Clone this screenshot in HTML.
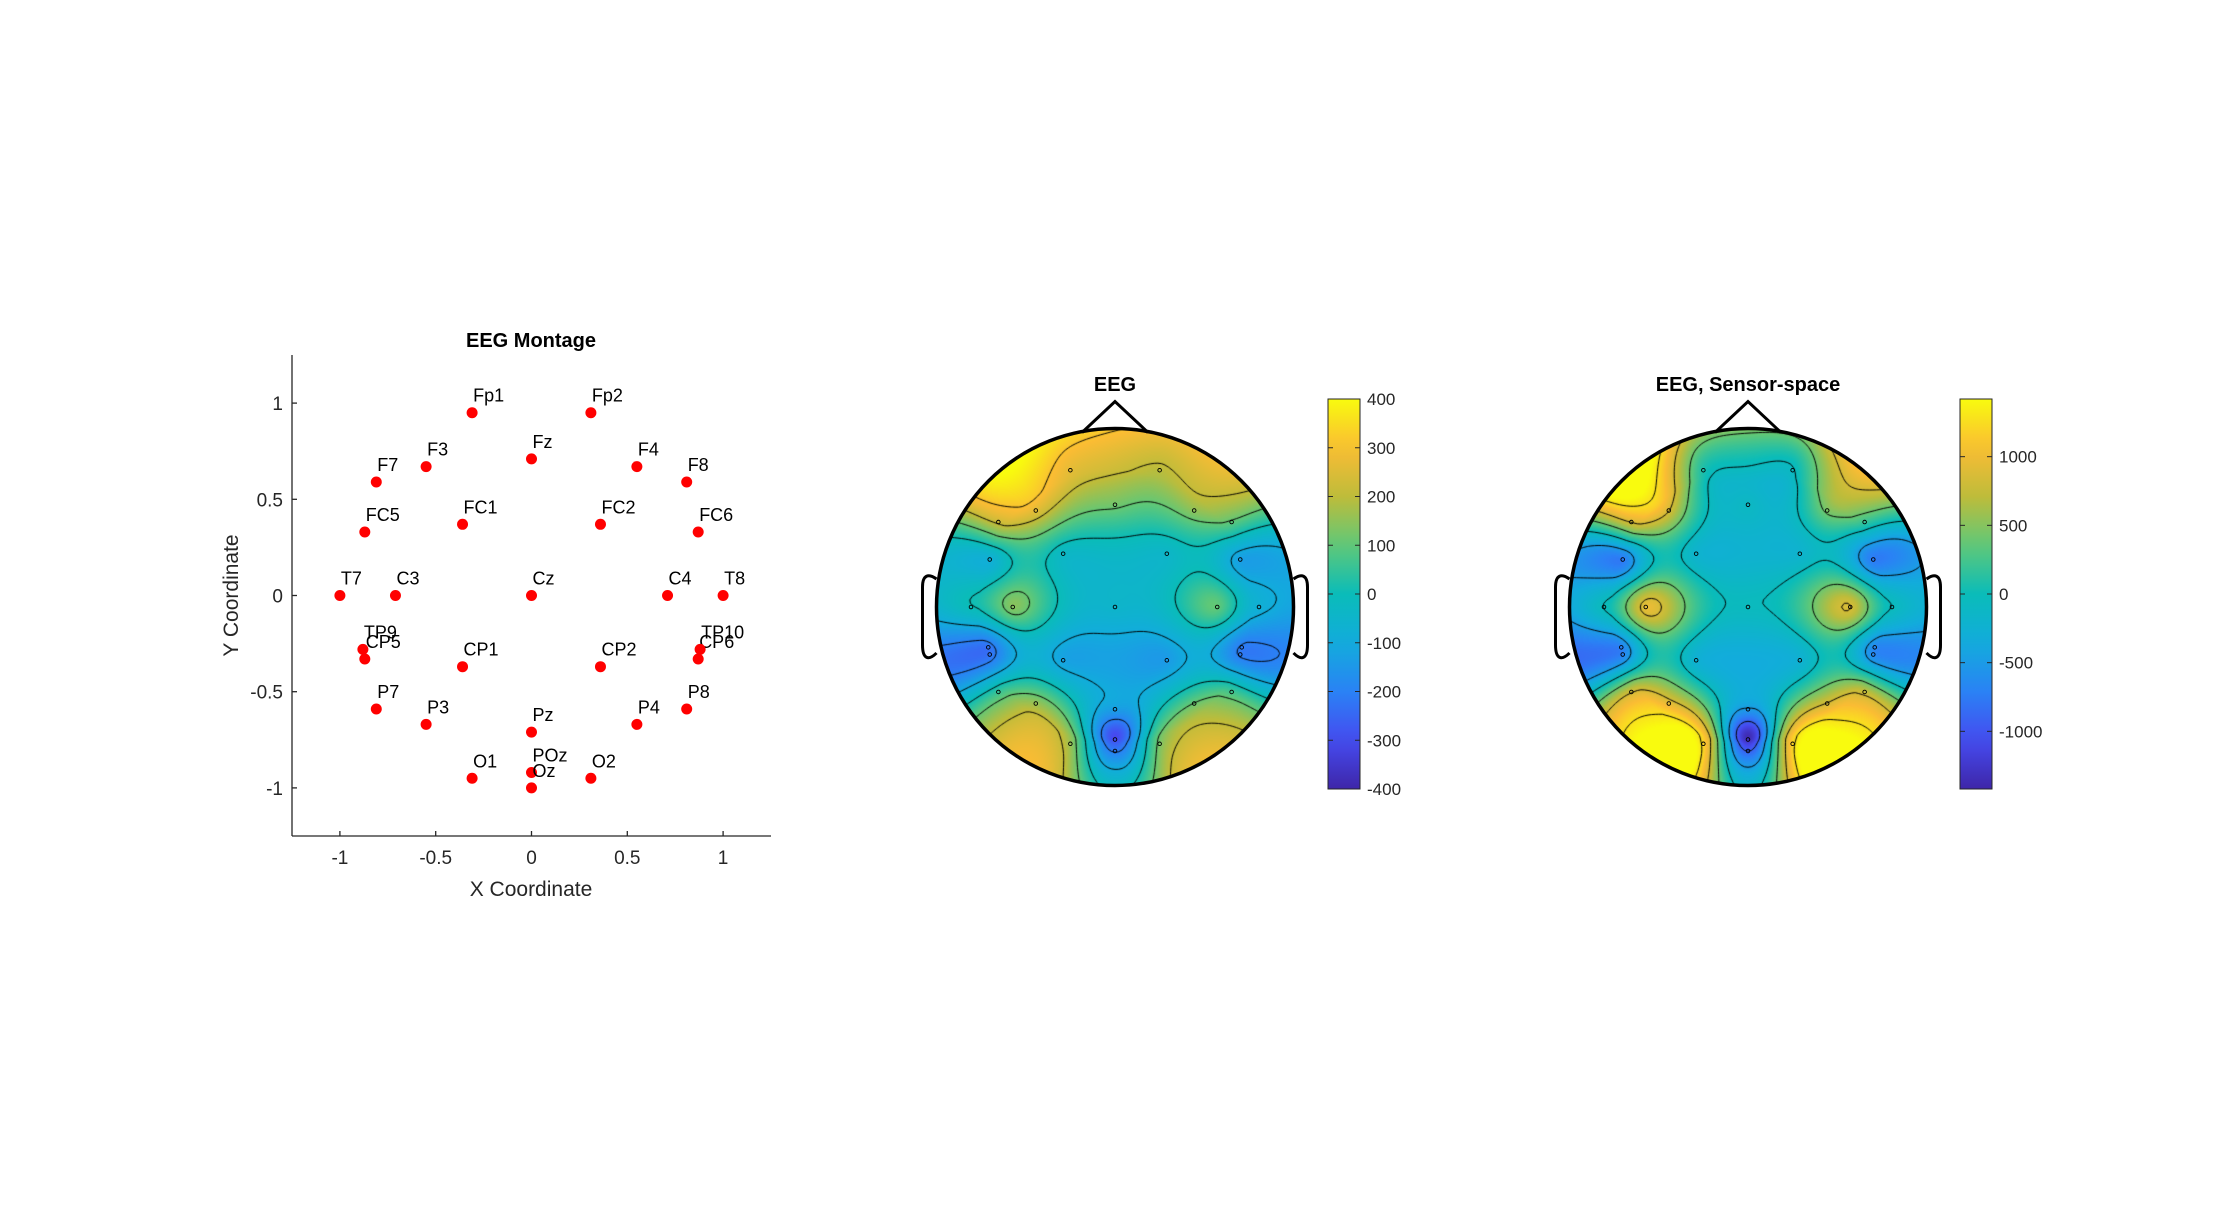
<!DOCTYPE html>
<html><head><meta charset="utf-8"><style>
html,body{margin:0;padding:0;background:#fff;}
#root{position:relative;width:2240px;height:1231px;overflow:hidden;font-family:"Liberation Sans",Arial,sans-serif;}
canvas{position:absolute;}
svg{position:absolute;left:0;top:0;}
</style></head><body>
<div id="root">
<canvas id="topo1" width="360" height="360" style="left:935px;top:427px"></canvas>
<canvas id="topo2" width="360" height="360" style="left:1568px;top:427px"></canvas>
<svg id="svg" width="2240" height="1231"></svg>
</div>
<script>
const channelNames = ["Fp1","Fp2","F7","F3","Fz","F4","F8","FC5","FC1","FC2","FC6","T7","C3","Cz","C4","T8","TP9","CP5","CP1","CP2","CP6","TP10","P7","P3","Pz","P4","P8","O1","POz","Oz","O2"];
const chanX = [-0.31,0.31,-0.81,-0.55,0,0.55,0.81,-0.87,-0.36,0.36,0.87,-1,-0.71,0,0.71,1,-0.88,-0.87,-0.36,0.36,0.87,0.88,-0.81,-0.55,0,0.55,0.81,-0.31,0,0,0.31];
const chanY = [0.95,0.95,0.59,0.67,0.71,0.67,0.59,0.33,0.37,0.37,0.33,0,0,0,0,0,-0.28,-0.33,-0.37,-0.37,-0.33,-0.28,-0.59,-0.67,-0.71,-0.67,-0.59,-0.95,-0.92,-1,-0.95];
const eegValues = [280,210,240,260,120,150,110,-80,-30,-40,-130,-10,140,-50,100,-90,-230,-230,-120,-140,-210,-210,60,160,-130,110,80,180,-300,-160,150];
const sensorValues = [150,0,950,850,-100,450,250,-750,-200,-200,-750,-100,950,-50,850,-100,-700,-700,-250,-250,-650,-650,850,950,-500,850,800,1300,-1350,-700,1300];
const xTicks = [-1,-0.5,0,0.5,1];
const yTicks = [-1,-0.5,0,0.5,1];
const cbar1Ticks = [400,300,200,100,0,-100,-200,-300,-400];
const cbar2Ticks = [1000,500,0,-500,-1000];

const NS="http://www.w3.org/2000/svg";
const svg=document.getElementById('svg');
function el(tag,attrs,parent){const e=document.createElementNS(NS,tag);for(const k in attrs)e.setAttribute(k,attrs[k]);(parent||svg).appendChild(e);return e;}
function txt(s,attrs,parent){const e=el('text',attrs,parent);e.textContent=s;return e;}

const ax={l:292,r:771,t:355,b:836,min:-1.25,max:1.25};
const sx=v=>ax.l+(v-ax.min)/(ax.max-ax.min)*(ax.r-ax.l);
const sy=v=>ax.b-(v-ax.min)/(ax.max-ax.min)*(ax.b-ax.t);
const g=el('g',{});


const yl=el('line',{x1:ax.l,y1:ax.t,x2:ax.l,y2:ax.b,stroke:'#262626','stroke-width':1.3},g);

const xl=el('line',{x1:ax.l,y1:ax.b,x2:ax.r,y2:ax.b,stroke:'#262626','stroke-width':1.3},g);

xTicks.forEach(v=>{
  el('line',{x1:sx(v),y1:ax.b,x2:sx(v),y2:ax.b-5,stroke:'#262626','stroke-width':1.3},g);
  const t=txt(String(v),{x:sx(v),y:ax.b+28,'text-anchor':'middle','font-size':19,fill:'#262626'},g);
  
});
yTicks.forEach(v=>{
  el('line',{x1:ax.l,y1:sy(v),x2:ax.l+5,y2:sy(v),stroke:'#262626','stroke-width':1.3},g);
  const t=txt(String(v),{x:ax.l-9,y:sy(v)+7,'text-anchor':'end','font-size':19,fill:'#262626'},g);
  
});
const tt=txt('EEG Montage',{x:531,y:347,'text-anchor':'middle','font-size':20,'font-weight':'bold',fill:'#000'});

const xt=txt('X Coordinate',{x:531,y:896,'text-anchor':'middle','font-size':21,fill:'#262626'});

const ytt=txt('Y Coordinate',{x:0,y:0,'text-anchor':'middle','font-size':21,fill:'#262626',transform:'translate(238,595.5) rotate(-90)'});

channelNames.forEach((n,i)=>{
  const c=el('circle',{cx:sx(chanX[i]),cy:sy(chanY[i]),r:5.5,fill:'#ff0000'});
  
  
  const t=txt(n,{x:sx(chanX[i])+1,y:sy(chanY[i])-11,'font-size':18,fill:'#000'});
  
  
});

const stops=[[0,62,38,168],[0.125,70,75,240],[0.25,42,130,245],[0.375,18,172,220],[0.5,10,188,185],[0.625,95,200,120],[0.75,190,188,58],[0.875,250,188,52],[1,249,251,14]];
function parula(t){t=Math.max(0,Math.min(1,t));for(let i=1;i<stops.length;i++){if(t<=stops[i][0]){const a=stops[i-1],b=stops[i],f=(t-a[0])/(b[0]-a[0]);return [a[1]+f*(b[1]-a[1]),a[2]+f*(b[2]-a[2]),a[3]+f*(b[3]-a[3])];}}return stops[stops.length-1].slice(1);}

function green(r){return r<1e-9?0:r*r*(Math.log(r)-1);}
function solveWeights(vals){
  const n=vals.length;const A=[];
  for(let i=0;i<n;i++){A.push([]);for(let j=0;j<n;j++)A[i].push(green(Math.hypot(chanX[i]-chanX[j],chanY[i]-chanY[j])));A[i].push(vals[i]);}
  for(let c=0;c<n;c++){let p=c;for(let r=c+1;r<n;r++)if(Math.abs(A[r][c])>Math.abs(A[p][c]))p=r;[A[c],A[p]]=[A[p],A[c]];
    for(let r=0;r<n;r++){if(r===c)continue;const f=A[r][c]/A[c][c];for(let k=c;k<=n;k++)A[r][k]-=f*A[c][k];}}
  return A.map((row,i)=>row[n]/row[i]);
}
function makeEval(vals){const w=solveWeights(vals);return (x,y)=>{
  const r=Math.hypot(x,y);if(r>0.95){const re=0.95+(r-0.95)*0.5;x*=re/r;y*=re/r;}
  let s=0;for(let i=0;i<w.length;i++)s+=w[i]*green(Math.hypot(x-chanX[i],y-chanY[i]));return s;};}

const SCALE=144, HR=178.5;
function drawTopo(canvasId,cx,cy,vals,lim,ticks,cbx,title,prefix){
  const f=makeEval(vals);
  const cv=document.getElementById(canvasId);const ctx=cv.getContext('2d');
  const img=ctx.createImageData(360,360);
  for(let py=0;py<360;py++)for(let px=0;px<360;px++){
    const dx=px+0.5-180,dy=py+0.5-180;if(dx*dx+dy*dy>HR*HR)continue;
    const v=f(dx/SCALE,-dy/SCALE);const c=parula((v+lim)/(2*lim));const o=(py*360+px)*4;
    img.data[o]=c[0];img.data[o+1]=c[1];img.data[o+2]=c[2];img.data[o+3]=255;}
  ctx.putImageData(img,0,0);
  const N=100,gr=[],R=HR/SCALE;let mn=1e9,mx=-1e9;
  for(let j=0;j<=N;j++){gr.push([]);for(let i=0;i<=N;i++){const x=-R+2*R*i/N,y=R-2*R*j/N;const v=f(x,y);gr[j].push(v);if(x*x+y*y<=R*R){mn=Math.min(mn,v);mx=Math.max(mx,v);}}}
  const gx=i=>180-HR+2*HR*i/N;
  ctx.strokeStyle='#000';ctx.lineWidth=1;
  ctx.save();ctx.beginPath();ctx.arc(180,180,HR,0,Math.PI*2);ctx.clip();
  for(let k=1;k<=6;k++){const L=mn+(mx-mn)*k/7;ctx.beginPath();
    for(let j=0;j<N;j++)for(let i=0;i<N;i++){
      const a=gr[j][i],b=gr[j][i+1],c=gr[j+1][i+1],d=gr[j+1][i];const pts=[];
      const e=(p,q,x1,y1,x2,y2)=>{if((p<L)!==(q<L)){const t=(L-p)/(q-p);pts.push([x1+t*(x2-x1),y1+t*(y2-y1)]);}};
      e(a,b,gx(i),gx(j),gx(i+1),gx(j));e(b,c,gx(i+1),gx(j),gx(i+1),gx(j+1));e(c,d,gx(i+1),gx(j+1),gx(i),gx(j+1));e(d,a,gx(i),gx(j+1),gx(i),gx(j));
      for(let m=0;m+1<pts.length;m+=2){ctx.moveTo(pts[m][0],pts[m][1]);ctx.lineTo(pts[m+1][0],pts[m+1][1]);}
    }ctx.stroke();}
  ctx.restore();
  const hg=el('g',{});
  const hc=el('circle',{cx:cx,cy:cy,r:HR,fill:'none',stroke:'#000','stroke-width':3.5},hg);
  
  const nose=el('polyline',{points:`${cx-33},${cy-HR+4} ${cx},${cy-HR-27} ${cx+33},${cy-HR+4}`,fill:'none',stroke:'#000','stroke-width':3},hg);
  
  [-1,1].forEach(s=>{const ex=cx+s*HR;
    const ear=el('path',{d:`M${ex},${cy-28} C${ex+s*8},${cy-34} ${ex+s*14},${cy-32} ${ex+s*14},${cy-20} L${ex+s*14},${cy+38} C${ex+s*14},${cy+52} ${ex+s*8},${cy+54} ${ex},${cy+46}`,fill:'none',stroke:'#000','stroke-width':3},hg);
    });
  channelNames.forEach((n,i)=>{const m=el('circle',{cx:cx+chanX[i]*SCALE,cy:cy-chanY[i]*SCALE,r:1.8,fill:'none',stroke:'#000','stroke-width':0.9},hg);
    });
  const t=txt(title,{x:cx,y:391,'text-anchor':'middle','font-size':20,'font-weight':'bold',fill:'#000'});
  
  const top=399,bot=789,cw=32;
  const gid=prefix+'grad';const defs=el('defs',{});const lg=el('linearGradient',{id:gid,x1:0,y1:1,x2:0,y2:0},defs);
  for(let k=0;k<=20;k++){const c=parula(k/20);el('stop',{offset:k/20,'stop-color':`rgb(${c.map(Math.round).join(',')})`},lg);}
  const cb=el('g',{});
  el('rect',{x:cbx,y:top,width:cw,height:bot-top,fill:`url(#${gid})`,stroke:'#262626','stroke-width':1},cb);
  const cy2=v=>bot-(v+lim)/(2*lim)*(bot-top);
  ticks.forEach(v=>{el('line',{x1:cbx+cw-5,y1:cy2(v),x2:cbx+cw,y2:cy2(v),stroke:'#262626'},cb);el('line',{x1:cbx,y1:cy2(v),x2:cbx+5,y2:cy2(v),stroke:'#262626'},cb);
    const l=txt(String(v),{x:cbx+cw+7,y:cy2(v)+6,'font-size':17,fill:'#262626'},cb);
    });
}
drawTopo('topo1',1115,607,eegValues,400,cbar1Ticks,1328,'EEG','eeg');
drawTopo('topo2',1748,607,sensorValues,1420,cbar2Ticks,1960,'EEG, Sensor-space','sensor');
</script>
</body></html>
